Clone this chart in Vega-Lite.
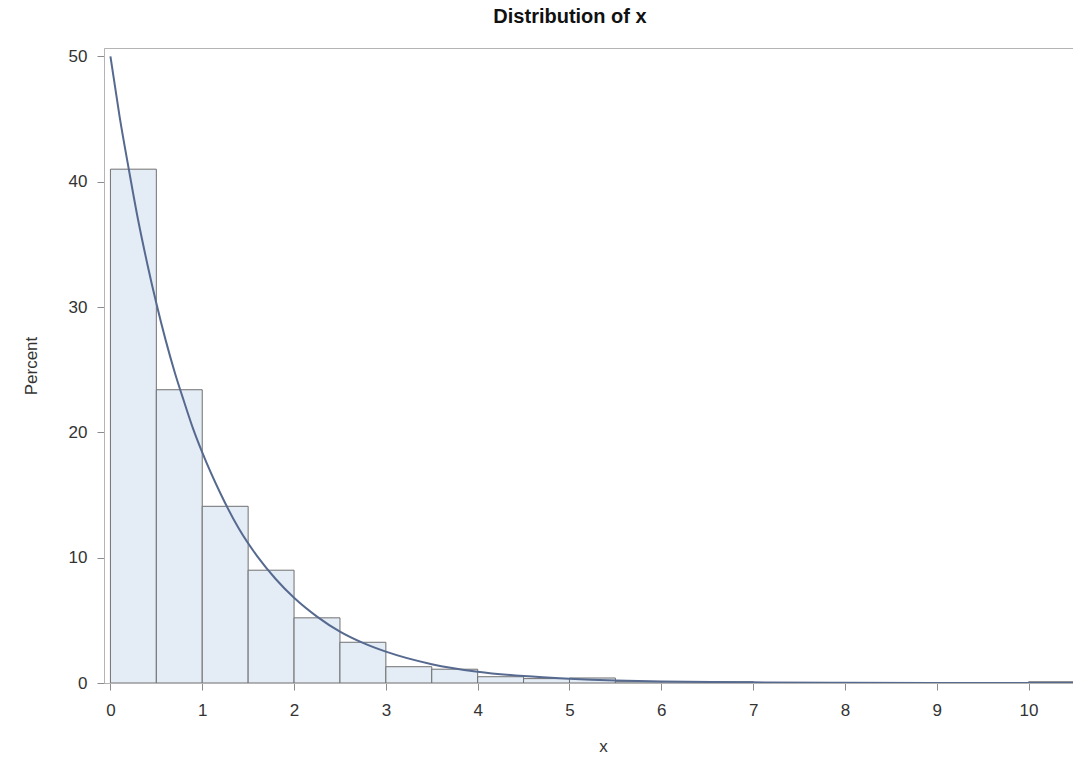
{
  "$schema": "https://vega.github.io/schema/vega-lite/v6.json",
  "autosize": {"type": "none"},
  "padding": {"left": 104, "top": 48, "right": 0, "bottom": 78},
  "width": 998,
  "height": 635,
  "background": "white",
  "title": {
    "text": "Distribution of x",
    "font": "Liberation Sans",
    "fontSize": 20,
    "fontWeight": "bold",
    "color": "#111111",
    "anchor": "middle",
    "dx": -33,
    "offset": 20
  },
  "config": {
    "view": {"stroke": "#b4b4b4", "strokeWidth": 1},
    "axis": {
      "labelFont": "Liberation Sans",
      "titleFont": "Liberation Sans",
      "labelFontSize": 17,
      "titleFontSize": 17,
      "labelColor": "#333333",
      "titleColor": "#333333",
      "titleFontWeight": "normal",
      "domainColor": "#b4b4b4",
      "tickColor": "#8c8c8c",
      "tickSize": 7,
      "grid": false
    }
  },
  "datasets": {
    "bins": [
      {"lo": 0.0, "hi": 0.5, "pct": 41.0},
      {"lo": 0.5, "hi": 1.0, "pct": 23.4},
      {"lo": 1.0, "hi": 1.5, "pct": 14.1},
      {"lo": 1.5, "hi": 2.0, "pct": 9.0},
      {"lo": 2.0, "hi": 2.5, "pct": 5.2},
      {"lo": 2.5, "hi": 3.0, "pct": 3.25},
      {"lo": 3.0, "hi": 3.5, "pct": 1.3},
      {"lo": 3.5, "hi": 4.0, "pct": 1.1},
      {"lo": 4.0, "hi": 4.5, "pct": 0.5},
      {"lo": 4.5, "hi": 5.0, "pct": 0.35},
      {"lo": 5.0, "hi": 5.5, "pct": 0.4},
      {"lo": 5.5, "hi": 6.0, "pct": 0.1},
      {"lo": 6.0, "hi": 6.5, "pct": 0.1},
      {"lo": 6.5, "hi": 7.0, "pct": 0.1},
      {"lo": 10.0, "hi": 10.5, "pct": 0.1}
    ],
    "curve": [
      {"x": 0.0, "y": 50.0},
      {"x": 0.1, "y": 45.2},
      {"x": 0.2, "y": 41.0},
      {"x": 0.3, "y": 37.0},
      {"x": 0.4, "y": 33.5},
      {"x": 0.5, "y": 30.3},
      {"x": 0.6, "y": 27.4},
      {"x": 0.7, "y": 24.8},
      {"x": 0.8, "y": 22.5},
      {"x": 0.9, "y": 20.3},
      {"x": 1.0, "y": 18.4},
      {"x": 1.2, "y": 15.1},
      {"x": 1.4, "y": 12.3},
      {"x": 1.6, "y": 10.1},
      {"x": 1.8, "y": 8.3},
      {"x": 2.0, "y": 6.8},
      {"x": 2.25, "y": 5.3},
      {"x": 2.5, "y": 4.1},
      {"x": 2.75, "y": 3.2},
      {"x": 3.0, "y": 2.5},
      {"x": 3.5, "y": 1.5},
      {"x": 4.0, "y": 0.9},
      {"x": 4.5, "y": 0.55},
      {"x": 5.0, "y": 0.34},
      {"x": 5.5, "y": 0.2},
      {"x": 6.0, "y": 0.12},
      {"x": 7.0, "y": 0.05},
      {"x": 8.0, "y": 0.02},
      {"x": 9.0, "y": 0.006},
      {"x": 10.0, "y": 0.002},
      {"x": 10.8, "y": 0.001}
    ]
  },
  "layer": [
    {
      "data": {"name": "bins"},
      "mark": {"type": "bar", "fill": "#e4ecf6", "stroke": "#707070", "strokeWidth": 1, "clip": true},
      "encoding": {
        "x": {
          "field": "lo",
          "type": "quantitative",
          "scale": {"domain": [-0.07, 10.8], "nice": false, "zero": false},
          "axis": {"values": [0,1,2,3,4,5,6,7,8,9,10], "format": "d", "title": "x", "labelPadding": 12, "titlePadding": 20}
        },
        "x2": {"field": "hi"},
        "y": {
          "field": "pct",
          "type": "quantitative",
          "scale": {"domain": [0, 50.67], "nice": false},
          "axis": {"values": [0,10,20,30,40,50], "title": "Percent", "labelPadding": 10, "titlePadding": 28}
        },
        "y2": {"datum": 0}
      }
    },
    {
      "data": {"name": "curve"},
      "mark": {"type": "line", "color": "#56698f", "strokeWidth": 2, "interpolate": "monotone", "clip": true},
      "encoding": {
        "x": {"field": "x", "type": "quantitative"},
        "y": {"field": "y", "type": "quantitative"}
      }
    }
  ]
}
